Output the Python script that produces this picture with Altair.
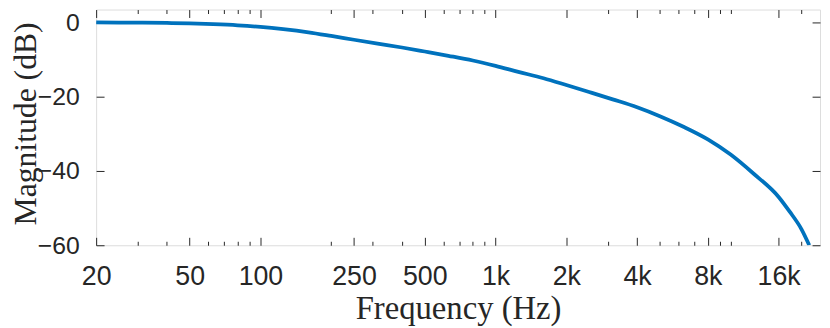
import altair as alt
import pandas as pd

# ---- data (third-octave points) ----
freq_hz = [20, 25, 31.5, 40, 50, 63, 80, 100, 125, 160, 200, 250, 315, 400, 500,
           630, 800, 1000, 1250, 1600, 2000, 2500, 3150, 4000, 5000, 6300, 8000,
           10000, 12500, 16000, 17800, 20000, 21600]
magnitude_db = [0.0, -0.02, -0.06, -0.14, -0.27, -0.47, -0.77, -1.20, -1.80, -2.65,
                -3.63, -4.66, -5.70, -6.75, -7.83, -8.98, -10.25, -11.70, -13.30,
                -15.02, -16.85, -18.73, -20.71, -22.84, -25.24, -28.09, -31.49,
                -35.59, -40.69, -46.99, -50.89, -55.64, -60.0]
x_major_ticks = [20, 50, 100, 250, 500, 1000, 2000, 4000, 8000, 16000]
x_minor_ticks = [30, 40, 60, 70, 80, 90, 200, 300, 400, 600, 700, 800, 900,
                 3000, 5000, 6000, 7000, 9000, 10000, 20000]
y_ticks = [-60, -40, -20, 0]

df = pd.DataFrame({"f": freq_hz, "db": magnitude_db})

W, H = 731, 238
INK = "#262626"
SANS = "Liberation Sans"
SERIF = "Liberation Serif"

xscale = alt.Scale(type="log", domain=[20, 24000], nice=False)
yscale = alt.Scale(domain=[-60, 3.47], nice=False, zero=False)

label_expr = "datum.value >= 1000 ? (datum.value / 1000) + 'k' : '' + datum.value"

main = alt.Chart(df).mark_line(
    color="#0072BD", strokeWidth=3.8, clip=True, interpolate="monotone"
).encode(
    x=alt.X("f:Q", scale=xscale, title="Frequency (Hz)",
            axis=alt.Axis(orient="bottom", values=x_major_ticks, labelExpr=label_expr,
                          ticks=False, domain=False, grid=False, labelPadding=19,
                          labelFontSize=27, labelFont=SANS, labelColor=INK,
                          labelFlush=False, labelOverlap=False, labelBound=False,
                          titleFont=SERIF, titleFontSize=33, titleFontWeight="normal",
                          titleColor=INK, titleBaseline="alphabetic", titleY=74)),
    y=alt.Y("db:Q", scale=yscale, title="Magnitude (dB)",
            axis=alt.Axis(orient="left", values=y_ticks, ticks=False, domain=False,
                          grid=False, labelPadding=17, labelFontSize=25, labelFont=SANS,
                          labelColor=INK, labelOverlap=False, labelFlush=False,
                          titleFont=SERIF, titleFontSize=32, titleFontWeight="normal",
                          titleColor=INK, titleAngle=270, titleBaseline="middle",
                          titleX=-71, titleY=115)),
)


def tick_axis(orient, values, size, offset):
    return alt.Axis(orient=orient, values=values, tickSize=size, offset=offset,
                    ticks=True, labels=False, domain=False, grid=False,
                    tickColor=INK, tickWidth=1)


def tick_layer(x_axis, y_axis):
    if y_axis is None:
        yenc = alt.Y("db:Q", scale=yscale, axis=None)
    else:
        yenc = alt.Y("db:Q", scale=yscale, title=None, axis=y_axis)
    return alt.Chart(df).mark_line(opacity=0).encode(
        x=alt.X("f:Q", scale=xscale, title=None, axis=x_axis),
        y=yenc,
    )


t1 = tick_layer(tick_axis("top", x_major_ticks, 8, -H), tick_axis("right", y_ticks, 8, -W))
t2 = tick_layer(tick_axis("top", x_minor_ticks, 4, -H), tick_axis("left", y_ticks, 8, -W))
t3 = tick_layer(tick_axis("bottom", x_major_ticks, 8, -H), None)
t4 = tick_layer(tick_axis("bottom", x_minor_ticks, 4, -H), None)

chart = alt.layer(main, t1, t2, t3, t4).resolve_axis(
    x="independent", y="independent"
).properties(
    width=W, height=H, autosize="none",
    padding={"left": 89, "top": 0, "right": 2, "bottom": 82},
).configure_view(stroke=INK, strokeWidth=1).configure(background="white")

chart.save("out.html", embed_options={"renderer": "svg", "actions": False})
